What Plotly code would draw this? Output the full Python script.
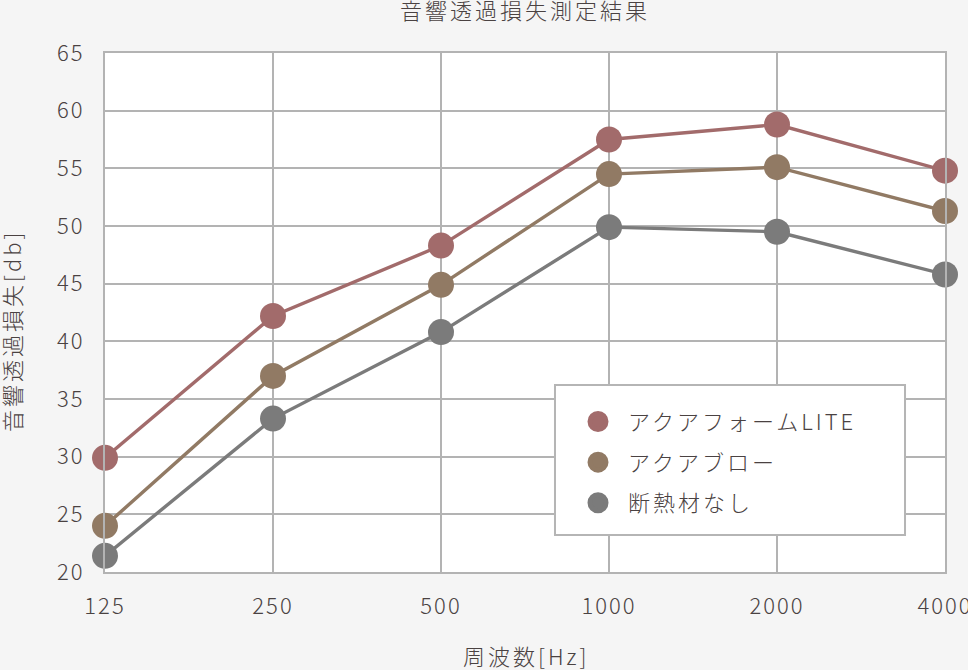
import plotly.graph_objects as go

freqs = ["125", "250", "500", "1000", "2000", "4000"]
series_names = ["アクアフォームLITE", "アクアブロー", "断熱材なし"]
lite = [29.9, 42.2, 48.3, 57.5, 58.8, 54.8]
blow = [24.0, 37.0, 44.9, 54.5, 55.1, 51.3]
none_ = [21.4, 33.3, 40.8, 49.9, 49.5, 45.8]
colors = ["#a26b6b", "#917a64", "#7b7b7b"]
yticks = [20, 25, 30, 35, 40, 45, 50, 55, 60, 65]
title_text = "音響透過損失測定結果"
xtitle_text = "周波数[Hz]"
ytitle_text = "音響透過損失[db]"

FONT = "Noto Sans CJK JP"
TXT = "#4a4242"


def sp(s, px=3):
    return '<span style="letter-spacing:%dpx">%s</span>' % (px, s)


fig = go.Figure()
for name, vals, col in zip(series_names, [lite, blow, none_], colors):
    fig.add_trace(go.Scatter(
        x=freqs, y=vals, mode="lines+markers", name=name,
        line=dict(color=col, width=3.4),
        marker=dict(color=col, size=26),
        cliponaxis=False, showlegend=False,
    ))
for i, (name, col) in enumerate(zip(series_names, colors)):
    fig.add_trace(go.Scatter(
        x=[freqs[0]], y=[None], mode="markers", name=sp(name, 3),
        legendgroup="g%d" % i,
        marker=dict(color=col, size=16, line=dict(color=col, width=5)),
        showlegend=True,
    ))

fig.update_layout(
    width=968, height=670, autosize=False,
    paper_bgcolor="#f5f5f5", plot_bgcolor="#ffffff",
    margin=dict(l=105, r=23, t=53, b=98, autoexpand=False),
    font=dict(family=FONT, color=TXT, size=22, weight=300),
    title=dict(text=sp(title_text, 3), x=0.5, xref="paper", xanchor="center",
               y=1 - 11 / 670, yref="container", yanchor="middle",
               font=dict(size=22, color=TXT, weight=300)),
    showlegend=True,
    legend=dict(x=0.5512, y=0.33, xanchor="left", yanchor="top",
                bgcolor="rgba(0,0,0,0)", borderwidth=0,
                font=dict(size=22, color=TXT, weight=300), itemsizing="trace",
                tracegroupgap=9, itemwidth=50),
    shapes=[dict(type="rect", xref="paper", yref="paper",
                 x0=0.5357, x1=0.9524, y0=0.0713, y1=0.3603,
                 fillcolor="#ffffff", line=dict(color="#b5b5b5", width=2),
                 layer="above")],
    annotations=[
        dict(text=sp(xtitle_text, 3), xref="paper", yref="paper",
             x=0.501, y=(572 - 655) / 519, xanchor="center", yanchor="middle",
             showarrow=False, font=dict(size=22, color=TXT, weight=300)),
        dict(text=sp(ytitle_text, 3), xref="paper", yref="paper",
             x=(11 - 105) / 840, y=(572 - 331) / 519, xanchor="center",
             yanchor="middle", textangle=-90,
             showarrow=False, font=dict(size=22, color=TXT, weight=300)),
    ],
)
fig.update_xaxes(
    type="category", range=[0, 5], automargin=False,
    tickvals=freqs, ticktext=[sp(f, 2) for f in freqs],
    showgrid=True, gridcolor="#b3b3b3", gridwidth=2,
    showline=True, linecolor="#b3b3b3", linewidth=2, mirror=True,
    ticks="", ticklabelstandoff=14,
    tickfont=dict(size=22, color=TXT, weight=300),
    zeroline=False,
)
fig.update_yaxes(
    range=[20, 65], automargin=False,
    tickvals=yticks, ticktext=[sp(str(v), 2) for v in yticks],
    showgrid=True, gridcolor="#b3b3b3", gridwidth=2,
    showline=True, linecolor="#b3b3b3", linewidth=2, mirror=True,
    ticks="", ticklabelstandoff=14,
    tickfont=dict(size=22, color=TXT, weight=300),
    zeroline=False,
)
fig.write_html(
    "out.html",
    config={"displayModeBar": False, "responsive": False},
    post_script=(
        "document.body.style.margin='0';"
        "document.body.style.overflow='hidden';"
        "document.documentElement.style.overflow='hidden';"
        "document.body.style.background='#f5f5f5';"
    ),
)
